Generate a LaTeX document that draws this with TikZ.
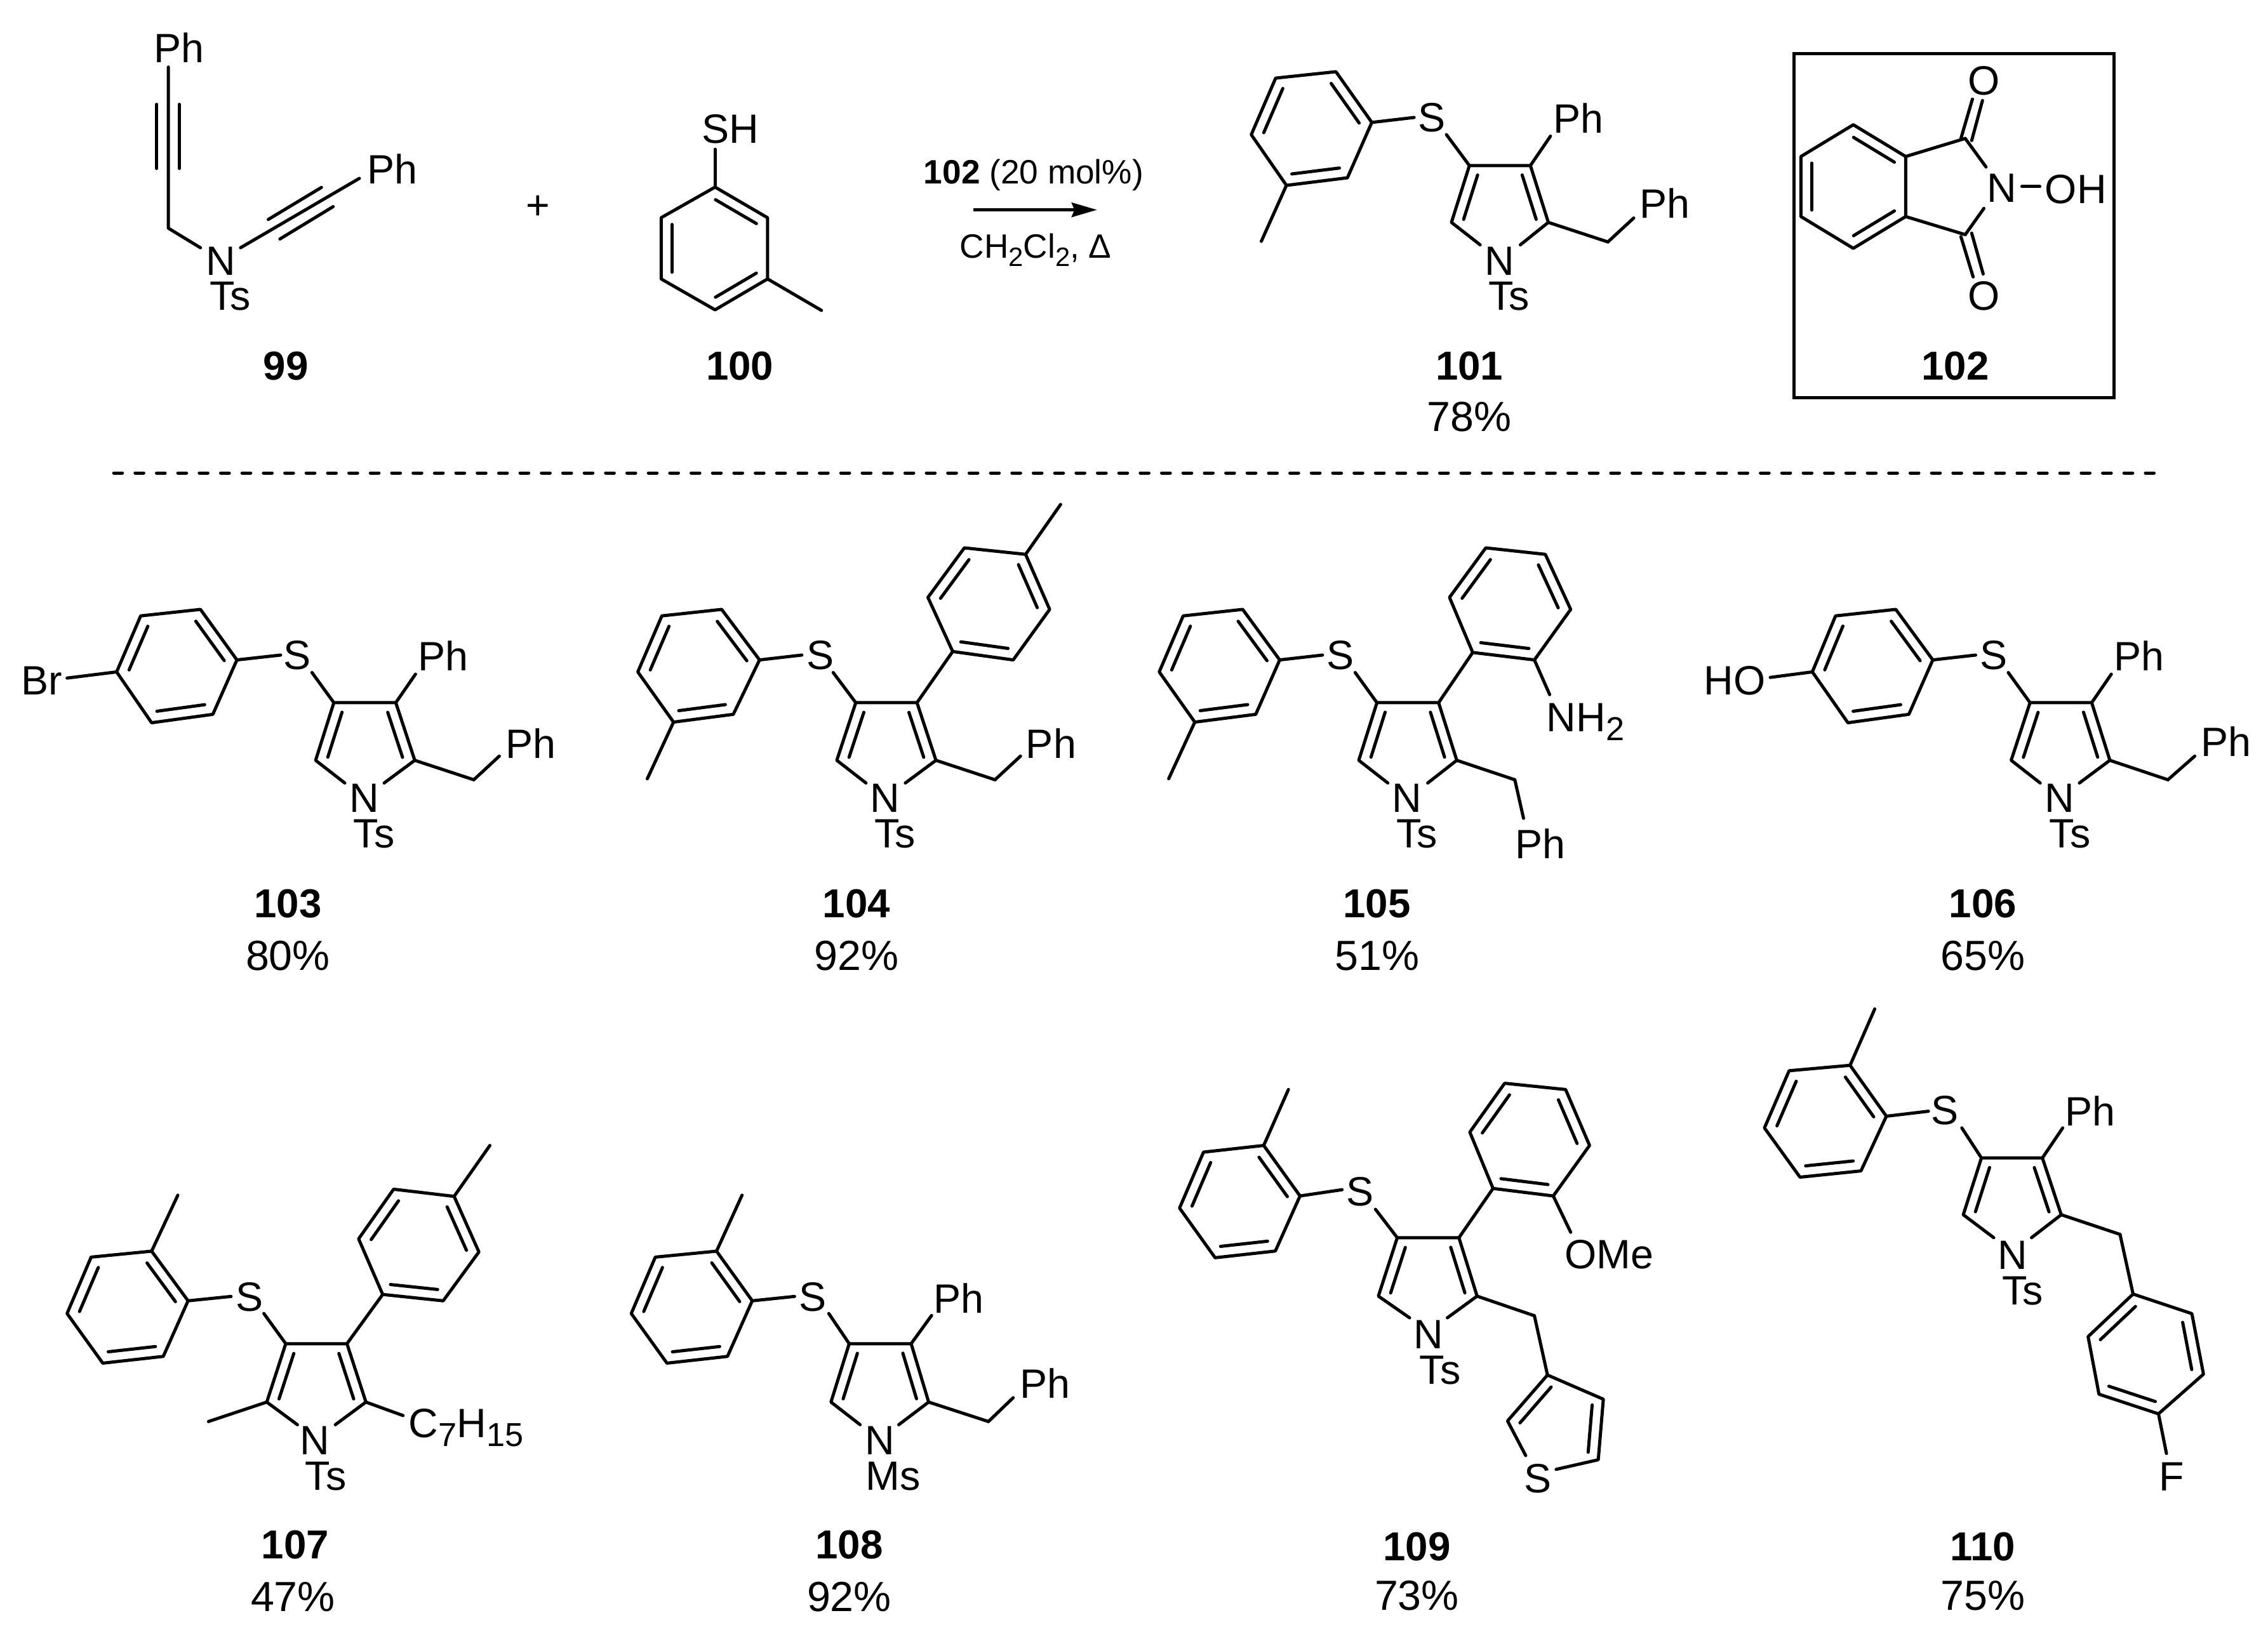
\documentclass[tikz,border=0pt]{standalone}
\usepackage{fontspec}
\setmainfont{Liberation Sans}
\usetikzlibrary{calc,arrows.meta}
\tikzset{
  bond/.style={line width=1.1pt,line cap=round,line join=round,black},
  lab/.style={font=\fontsize{14.2}{14.2}\selectfont,inner sep=0pt,anchor=center},
  num/.style={font=\fontsize{14}{14}\selectfont\bfseries,inner sep=0pt,anchor=center},
  pct/.style={font=\fontsize{14.6}{14.6}\selectfont,inner sep=0pt,anchor=center},
  cond/.style={font=\fontsize{11.7}{11.7}\selectfont,inner sep=0pt},
  zA/.style={x=0.25256pt,y=-0.10102pt},
  zB/.style={shift={(396pt,0pt)},x=0.24862pt,y=-0.10102pt},
  zC/.style={shift={(0pt,-167.2pt)},x=0.25256pt,y=-0.11224pt},
  zD/.style={shift={(391.6pt,-167.2pt)},x=0.25144pt,y=-0.11224pt},
  zE/.style={shift={(0pt,-352pt)},x=0.25256pt,y=-0.13763pt},
  zF/.style={shift={(391.6pt,-341pt)},x=0.25144pt,y=-0.14465pt},
}
\newcommand\dr[2]{\draw[bond] ($(#1)!.11!(#2)!3.7pt!-90:(#2)$) -- ($(#2)!.11!(#1)!3.7pt!90:(#1)$);}
\newcommand\dl[2]{\draw[bond] ($(#1)!.11!(#2)!3.7pt!90:(#2)$) -- ($(#2)!.11!(#1)!3.7pt!-90:(#1)$);}
% benzene ring, vertices clockwise, double bonds r1-r2, r3-r4, r5-r6
\newcommand\ring[1]{\foreach \x/\y [count=\i] in {#1} {\coordinate (r\i) at (\x,\y);}
  \draw[bond] (r1)--(r2)--(r3)--(r4)--(r5)--(r6)--cycle;
  \dr{r1}{r2}\dr{r3}{r4}\dr{r5}{r6}}
% pyrrole: C3, C4, C5, C2, free end towards N from C2, free end towards N from C5
\newcommand\pyr[1]{\foreach \x/\y [count=\i] in {#1} {\coordinate (p\i) at (\x,\y);}
  \draw[bond] (p5)--(p4)--(p1)--(p2)--(p3)--(p6);
  \dr{p4}{p1}\dr{p2}{p3}}
\newcommand\lnk[4]{\coordinate (la) at (#1,#2);\coordinate (lb) at (#3,#4);\draw[bond] (la)--(lb);}
\newcommand\tolnk[3]{\coordinate (lb) at (#2,#3);\draw[bond] (#1)--(lb);}
\newcommand\sbs[1]{\raisebox{-3pt}{\fontsize{11.5}{11.5}\selectfont #1}}
\newcommand\sbc[1]{\raisebox{-2.8pt}{\fontsize{9.2}{9.2}\selectfont #1}}
\begin{document}
\begin{tikzpicture}
\useasboundingbox (0pt,0pt) rectangle (785.84pt,-567.82pt);
% ---------- top left
\begin{scope}[zA]
 \node[lab] (ph99a) at (246,163) {Ph};
 \coordinate (y1) at (231,230); \coordinate (y2) at (231,783);
 \coordinate (y3) at (275,850); \coordinate (y4) at (330,850); \coordinate (y5) at (493,612);
 \draw[bond] (y1)--(y2)--(y3); \draw[bond] (y4)--(y5);
 \lnk{215}{358}{215}{578}\lnk{246}{358}{246}{578}
 \lnk{368}{753}{441}{643}\lnk{384}{820}{457}{709}
 \node[lab] (n99) at (303,895) {N};
 \node[lab] (ts99) at (316,1017) {Ts};
 \node[lab] (ph99b) at (538,580) {Ph};
 \node[num] (l99) at (392,1255) {99};
 \node[lab] (plus) at (738,712) {+};
 \node[lab] (sh) at (1002,442) {SH};
 \ring{981/642,1053/747,1053/957,981/1063,907/957,907/747}
 \tolnk{r1}{981}{512}
 \tolnk{r3}{1127}{1065}
 \node[num] (l100) at (1015,1255) {100};
 \coordinate (arA) at (1335,720); \coordinate (arB) at (1505,720);
 \draw[bond,line cap=butt,-{Stealth[length=8.8pt,width=5pt,inset=1pt]}] (arA)--(arB);
 \node[cond,anchor=center] (c1) at (1418,600) {\textbf{102} (20 mol\%)};
 \node[cond,anchor=base west] (c2) at (1316,885) {CH\sbc{2}Cl\sbc{2}, Δ};
\end{scope}
% ---------- 101, 102
\begin{scope}[zB]
 \ring{269/246,319/420,285/610,200/636,151/462,185/268}
 \tolnk{r4}{165}{828}
 \tolnk{r2}{378}{403}
 \node[lab] (s101) at (403,403) {S};
 \pyr{455/568,540/568,565/763,430/763,470/840,526/840}
 \tolnk{p1}{423}{462}
 \tolnk{p2}{568}{467}
 \coordinate (ch) at (648,830); \draw[bond] (p3)--(ch); \tolnk{ch}{684}{748}
 \node[lab] (ph101a) at (607,405) {Ph};
 \node[lab] (ph101b) at (727,697) {Ph};
 \node[lab] (n101) at (497,895) {N};
 \node[lab] (ts101) at (510,1017) {Ts};
 \node[num] (l101) at (455,1255) {101};
 \node[pct] (y101) at (455,1430) {78\%};
 \coordinate (bx1) at (907,184); \coordinate (bx2) at (1353,1364);
 \draw[bond,line join=miter] (bx1) rectangle (bx2);
 \ring{990/428,1063/537,1063/743,990/852,917/743,917/537}
 \coordinate (k1) at (1146,475); \coordinate (k2) at (1146,805);
 \draw[bond] (r2)--(k1); \draw[bond] (r3)--(k2);
 \tolnk{k1}{1175}{573}\tolnk{k2}{1172}{715}
 \lnk{1225}{640}{1250}{640}
 \lnk{1140}{475}{1156}{340}\lnk{1155}{482}{1170}{345}
 \lnk{1140}{812}{1157}{950}\lnk{1155}{800}{1171}{940}
 \node[lab] (o1) at (1172,277) {O};
 \node[lab] (o2) at (1172,1015) {O};
 \node[lab] (n102) at (1197,645) {N};
 \node[lab] (oh) at (1300,650) {OH};
 \node[num] (l102) at (1132,1255) {102};
\end{scope}
% ---------- divider
\coordinate (da) at (39.4pt,-163.9pt); \coordinate (db) at (749.5pt,-163.9pt);
\draw[bond,dash pattern=on 3.0pt off 4.41pt,line cap=round] (da)--(db);
% ---------- 103, 104
\begin{scope}[zC]
 \ring{275/392,325/548,292/716,208/742,160/585,193/412}
 \tolnk{r5}{92}{604}\tolnk{r2}{385}{533}
 \node[lab] (br) at (57,612) {Br};
 \node[lab] (s103) at (408,534) {S};
 \pyr{458/680,543/680,569/858,433/858,473/928,527/928}
 \tolnk{p1}{428}{587}\tolnk{p2}{570}{592}
 \coordinate (ch) at (650,918); \draw[bond] (p3)--(ch); \tolnk{ch}{685}{845}
 \node[lab] (ph103a) at (608,535) {Ph};
 \node[lab] (ph103b) at (728,805) {Ph};
 \node[lab] (n103) at (500,975) {N};
 \node[lab] (ts103) at (513,1085) {Ts};
 \node[num] (l103) at (395,1301) {103};
 \node[pct] (y103) at (395,1462) {80\%};
 \ring{990/392,1042/548,1006/716,924/740,875/585,908/412}
 \tolnk{r4}{888}{915}\tolnk{r2}{1100}{533}
 \node[lab] (s104) at (1125,534) {S};
 \pyr{1174/680,1258/680,1284/858,1148/858,1188/928,1242/928}
 \tolnk{p1}{1143}{587}
 \ring{1390/548,1307/522,1273/355,1323/202,1407/222,1440/392}
 \draw[bond] (p2)--(r2);
 \tolnk{r5}{1455}{68}
 \coordinate (ch) at (1365,918); \draw[bond] (p3)--(ch); \tolnk{ch}{1400}{845}
 \node[lab] (ph104) at (1442,805) {Ph};
 \node[lab] (n104) at (1214,975) {N};
 \node[lab] (ts104) at (1228,1085) {Ts};
 \node[num] (l104) at (1175,1301) {104};
 \node[pct] (y104) at (1175,1462) {92\%};
\end{scope}
% ---------- 105, 106
\begin{scope}[zD]
 \ring{155/392,206/548,173/716,89/740,40/585,73/412}
 \tolnk{r4}{53}{915}\tolnk{r2}{265}{533}
 \node[lab] (s105) at (290,534) {S};
 \pyr{340/680,425/680,450/858,315/858,355/928,410/928}
 \tolnk{p1}{310}{587}
 \ring{557/548,472/525,440/355,490/202,572/222,607/392}
 \draw[bond] (p2)--(r2);
 \tolnk{r1}{578}{655}
 \coordinate (ch) at (530,918); \draw[bond] (p3)--(ch); \tolnk{ch}{542}{1037}
 \node[lab,anchor=base west] (nh2) at (573,770) {NH\sbs{2}};
 \node[lab] (ph105) at (565,1115) {Ph};
 \node[lab] (n105) at (381,975) {N};
 \node[lab] (ts105) at (395,1085) {Ts};
 \node[num] (l105) at (340,1301) {105};
 \node[pct] (y105) at (340,1462) {51\%};
 \ring{1055/392,1106/548,1073/716,989/742,940/585,972/412}
 \tolnk{r5}{882}{602}\tolnk{r2}{1165}{533}
 \node[lab] (ho) at (833,612) {HO};
 \node[lab] (s106) at (1190,534) {S};
 \pyr{1240/680,1325/680,1350/858,1214/858,1254/928,1308/928}
 \tolnk{p1}{1210}{587}\tolnk{p2}{1352}{592}
 \coordinate (ch) at (1430,918); \draw[bond] (p3)--(ch); \tolnk{ch}{1467}{845}
 \node[lab] (ph106a) at (1390,535) {Ph};
 \node[lab] (ph106b) at (1510,800) {Ph};
 \node[lab] (n106) at (1281,975) {N};
 \node[lab] (ts106) at (1295,1085) {Ts};
 \node[num] (l106) at (1175,1301) {106};
 \node[pct] (y106) at (1175,1462) {65\%};
\end{scope}
% ---------- 107, 108
\begin{scope}[zE]
 \ring{208/593,258/718,224/858,141/875,92/750,125/608}
 \tolnk{r1}{244}{452}\tolnk{r2}{317}{707}
 \node[lab] (s107) at (342,708) {S};
 \pyr{392/826,476/826,502/973,366/973,408/1030,460/1030}
 \tolnk{p1}{362}{750}
 \ring{608/718,525/702,492/562,540/437,623/455,657/595}
 \draw[bond] (p2)--(r2);
 \tolnk{r5}{672}{327}
 \tolnk{p4}{286}{1022}\tolnk{p3}{553}{1007}
 \node[lab,anchor=base west] (c7) at (560,1062) {C\sbs{7}H\sbs{15}};
 \node[lab] (n107) at (432,1070) {N};
 \node[lab] (ts107) at (447,1160) {Ts};
 \node[num] (l107) at (405,1333) {107};
 \node[pct] (y107) at (402,1464) {47\%};
 \ring{983/593,1032/718,998/858,915/875,866/750,899/608}
 \tolnk{r1}{1018}{452}\tolnk{r2}{1090}{707}
 \node[lab] (s108) at (1115,708) {S};
 \pyr{1165/826,1250/826,1274/973,1140/973,1180/1030,1233/1030}
 \tolnk{p1}{1137}{750}\tolnk{p2}{1278}{755}
 \coordinate (ch) at (1356,1022); \draw[bond] (p3)--(ch); \tolnk{ch}{1390}{962}
 \node[lab] (ph108a) at (1315,712) {Ph};
 \node[lab] (ph108b) at (1434,925) {Ph};
 \node[lab] (n108) at (1207,1070) {N};
 \node[lab] (ms108) at (1225,1160) {Ms};
 \node[num] (l108) at (1165,1333) {108};
 \node[pct] (y108) at (1165,1464) {92\%};
\end{scope}
% ---------- 109, 110
\begin{scope}[zF]
 \ring{184/387,234/508,200/640,117/656,68/537,101/403}
 \tolnk{r1}{218}{253}\tolnk{r2}{292}{493}
 \node[lab] (s109) at (317,497) {S};
 \pyr{368/608,453/608,478/748,342/748,385/800,437/800}
 \tolnk{p1}{338}{540}
 \ring{583/508,500/490,468/355,516/238,600/253,633/387}
 \draw[bond] (p2)--(r2);
 \tolnk{r1}{607}{595}
 \node[lab] (ome) at (660,648) {OMe};
 \coordinate (ch) at (557,795); \draw[bond] (p3)--(ch);
 \coordinate (t1) at (575,937); \coordinate (t2) at (652,995); \coordinate (t3) at (645,1140);
 \coordinate (t4) at (587,1163); \coordinate (t5) at (520,1047); \coordinate (t6) at (545,1130);
 \draw[bond] (ch)--(t1); \draw[bond] (t4)--(t3)--(t2)--(t1)--(t5)--(t6);
 \dl{t1}{t5}\dr{t2}{t3}
 \node[lab] (st) at (562,1185) {S};
 \node[lab] (n109) at (411,840) {N};
 \node[lab] (ts109) at (427,925) {Ts};
 \node[num] (l109) at (395,1348) {109};
 \node[pct] (y109) at (395,1465) {73\%};
 \ring{992/195,1042/317,1007/448,923/463,874/345,908/208}
 \tolnk{r1}{1026}{60}\tolnk{r2}{1100}{305}
 \node[lab] (s110) at (1123,303) {S};
 \pyr{1173/417,1257/417,1283/553,1148/553,1190/608,1242/608}
 \tolnk{p1}{1146}{345}\tolnk{p2}{1285}{345}
 \coordinate (ch) at (1364,600); \draw[bond] (p3)--(ch);
 \ring{1320/845,1382/743,1463/790,1479/935,1417/1030,1335/983}
 \draw[bond] (ch)--(r2);
 \tolnk{r5}{1428}{1125}
 \node[lab] (f) at (1435,1180) {F};
 \node[lab] (ph110) at (1323,305) {Ph};
 \node[lab] (n110) at (1216,650) {N};
 \node[lab] (ts110) at (1230,735) {Ts};
 \node[num] (l110) at (1175,1348) {110};
 \node[pct] (y110) at (1175,1465) {75\%};
\end{scope}
\end{tikzpicture}
\end{document}
